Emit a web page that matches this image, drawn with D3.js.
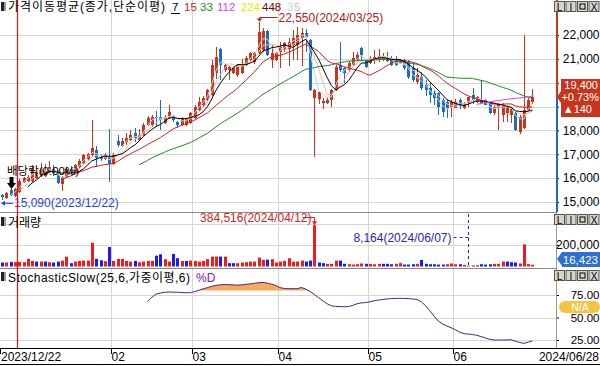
<!DOCTYPE html>
<html>
<head>
<meta charset="utf-8">
<script src="https://cdn.jsdelivr.net/npm/d3@7"></script>
<style>
body{margin:0;background:#fff}
svg{display:block;font-family:"Liberation Sans","Noto Sans CJK KR",sans-serif;font-size:12px}
</style>
</head>
<body>
<svg id="chart" width="600" height="366"></svg>
<script>
// daily candles, 2023/12/22 .. 2024/06/28 (index = trading day)
var opens = [15300,15150,15500,15250,15420,15850,15900,15900,16000,16150,16100,16250,16400,16150,15750,16050,16400,16250,16450,16650,
  16800,16950,17200,16900,16800,16900,16600,17550,17350,17500,17600,17900,17600,17800,18230,18230,18560,18560,18300,18520,
  18600,18350,18230,18230,18300,18520,18850,19070,19280,19490,20400,21410,20530,20530,20400,20320,20400,20740,20950,20870,
  21250,21370,22170,20950,20950,21290,21370,21410,21580,21580,21870,22100,21790,19360,19320,19150,19150,19280,19700,20740,
  20600,20530,20740,20950,21450,20950,20830,20950,20950,20950,20910,21040,21000,20830,20950,20870,20620,20030,20240,19900,
  19780,19570,19570,19280,19190,18980,18940,19280,18940,19150,19490,19190,19280,19280,19190,18730,18940,18650,18730,18650,
  18730,17940,18100,18860,19200];
var highs = [15350,15420,15560,15600,15960,16050,16150,16550,16300,16650,16600,16700,16550,16200,16100,16450,16500,16600,16800,17000,
  17050,18450,17350,17000,17050,18050,17050,17800,17700,17900,18000,18100,18050,18300,18600,18650,18800,19280,18650,19050,
  18650,18400,18560,18520,18780,19050,19400,19450,19750,20950,21500,21450,20800,20700,20700,20800,21000,21100,21300,21300,
  22550,22300,22200,21580,21300,21700,21700,21870,22200,22350,22300,22250,21850,19750,19650,19350,19400,19750,20750,21700,
  20650,20900,21300,21300,21500,21000,21100,21380,21400,21250,21300,21100,21100,21000,21000,20950,20870,20600,20450,20100,
  20000,19700,19600,19350,19280,19280,19300,19360,19200,19400,19780,19450,20110,19300,19200,19070,19150,19150,19070,18940,
  18760,18650,22000,19350,19750];
var lows = [15090,15120,15250,15200,15380,15800,15850,15850,15950,16100,16050,16200,16100,15750,15450,16000,16100,16200,16400,16600,
  16700,16900,16450,16700,16750,15850,16550,17300,17300,17400,17550,17500,17550,17750,18200,18150,18150,18020,18250,18480,
  18350,18100,18200,18200,18250,18480,18800,19000,19200,19450,20150,20100,20450,20100,20350,20250,20350,20700,20900,20800,
  21200,21300,21100,20620,20900,20600,21300,20700,20950,20950,20700,21300,19650,16900,19100,18900,19100,19000,19650,20450,
  20000,20450,20700,20900,20950,20600,20800,20800,20850,20900,20850,20700,20700,20800,20550,20150,20030,19950,19700,19450,
  19150,19070,18650,18560,18520,18560,18940,18900,18900,19000,19100,19150,19100,19050,18700,18650,18000,18350,18350,18300,
  17980,17850,18050,18800,19100];
var closes = [15220,15380,15300,15560,15900,16000,16060,16380,16250,16400,16300,16450,16200,15800,16050,16400,16250,16550,16700,16950,
  17000,17250,16850,16800,16950,16600,16950,17400,17550,17700,17800,17700,17800,18230,18520,18560,18520,18440,18560,18780,
  18440,18230,18520,18480,18730,18980,19190,19360,19700,20740,21080,20740,20740,20660,20620,20740,20740,21040,21250,21250,
  22130,22170,21160,21250,21250,21500,21660,21700,21870,22000,22080,21920,19700,19700,19610,19230,19280,19700,20660,20530,
  20400,20830,21040,21160,21160,20660,21040,21080,21120,21100,21040,20740,20740,20950,20620,20240,20110,20320,19780,19700,
  19490,19360,18980,18770,18940,19190,19190,19070,19150,19400,19280,19400,19150,19070,18730,18980,19070,19070,18980,18900,
  18020,18560,18850,19260,19400];
var volumes = [37000,37000,43000,40000,43000,40000,71000,52000,46000,46000,46000,40000,37000,46000,55000,92000,31000,46000,52000,55000,
  55000,221000,71000,58000,50000,181000,52000,71000,71000,52000,46000,52000,40000,46000,52000,52000,101000,114000,68000,46000,
  117000,77000,52000,52000,55000,52000,46000,52000,68000,92000,92000,92000,92000,31000,31000,31000,37000,40000,46000,46000,
  83000,61000,64000,68000,37000,46000,52000,77000,46000,46000,55000,46000,55000,384516,37000,31000,25000,25000,55000,55000,
  25000,21000,18000,21000,28000,25000,25000,21000,25000,25000,25000,21000,25000,31000,18000,18000,21000,25000,61000,25000,
  21000,21000,18000,18000,21000,28000,21000,21000,15000,8164,9000,12000,21000,18000,21000,25000,25000,46000,46000,40000,
  37000,28000,206000,22000,16423];
// Stochastic Slow %D, first value on trading day 34
var stochStart = 34;
var stochD = [67.6,72.5,76,77.2,78,78.3,78.2,78,77.8,77.5,77.6,78.7,80.3,81.8,83.2,84.6,85.6,86.4,86.6,86.5,
  86.2,86,86.3,86.8,87.4,88,88.7,89,88.2,87,85.6,83.2,82.2,82,82,82,83.4,81.5,78.8,75.6,
  72,68.5,65.2,63,62.4,62,62,62.2,63.5,65.3,66.2,66.6,67.4,68.6,69.4,70,70.6,71,71.2,71.3,
  71.2,71,70.6,70,67.5,63.2,57.4,51.5,46,42.8,40.5,38.6,36.3,33.8,32,31.6,31,30.2,28.8,27.2,
  25.8,25,25,25,25.1,25.3,23.6,22.2,21.3,22.6,23.9];

var maPeriods = [7, 15, 33, 112, 224, 448, 3, 5];
var maColors = ['#000000', '#d42020', '#1f8a1f', '#e040e0', '#e8e800', '#7a0000', '#a8dff0', '#ebb9a6'];
var monthTicks = [{i: 26, label: '02'}, {i: 45, label: '03'}, {i: 65, label: '04'}, {i: 86, label: '05'}, {i: 106, label: '06'}];
var yearStart = 4;
var priceTicks = [15000, 16000, 17000, 18000, 19000, 20000, 21000, 22000];
var volTicks = [200000, 400000];
var stochTicks = [25, 50, 75];
var firstDate = '2023/12/22', lastDate = '2024/06/28';
var prevClose = 19260;

var W = 556;
var upC = '#cc3318', dnC = '#1c6cc4';
var svg = d3.select('#chart');
svg.append('rect').attr('width', 600).attr('height', 366).attr('fill', '#fff');

var xc = d3.scaleLinear().domain([-0.5, 129.5]).range([0, W]);
var yP = d3.scaleLinear().domain([15000, 22000]).range([202, 35]);
var yV = d3.scaleLinear().domain([0, 200000]).range([266.5, 245]);
var yS = d3.scaleLinear().domain([25, 75]).range([340, 295]);
var px = function (i) { return Math.round(xc(i)) + 0.5; };

var data = closes.map(function (c, i) {
    return {i: i, o: opens[i], h: highs[i], l: lows[i], c: c, v: volumes[i]};
});

// grid
var grid = svg.append('g').attr('stroke', '#d6d6d6').attr('shape-rendering', 'crispEdges');
priceTicks.forEach(function (p) {
    grid.append('line').attr('x1', 0).attr('x2', W).attr('y1', Math.round(yP(p))).attr('y2', Math.round(yP(p)));
});
volTicks.forEach(function (v) {
    grid.append('line').attr('x1', 0).attr('x2', W).attr('y1', Math.round(yV(v))).attr('y2', Math.round(yV(v)));
});
stochTicks.forEach(function (v) {
    grid.append('line').attr('x1', 0).attr('x2', W).attr('y1', Math.round(yS(v))).attr('y2', Math.round(yS(v)));
});
monthTicks.forEach(function (m) {
    var gx = Math.round(xc(m.i - 0.5)) + 0.5;
    grid.append('line').attr('x1', gx).attr('x2', gx).attr('y1', 0).attr('y2', 348);
});

// panel separators
var sep = svg.append('g').attr('shape-rendering', 'crispEdges');
sep.append('line').attr('x1', 0).attr('x2', 600).attr('y1', 212.5).attr('y2', 212.5).attr('stroke', '#8a8a8a');
sep.append('line').attr('x1', 0).attr('x2', 600).attr('y1', 268.5).attr('y2', 268.5).attr('stroke', '#8a8a8a');
sep.append('line').attr('x1', 0).attr('x2', 600).attr('y1', 348.5).attr('y2', 348.5).attr('stroke', '#000');
sep.append('line').attr('x1', 0).attr('x2', 600).attr('y1', 364.5).attr('y2', 364.5).attr('stroke', '#000');

// volume bars
svg.append('g').selectAll('rect').data(data).enter().append('rect')
    .attr('x', function (d) { return Math.round(xc(d.i)) - 1; })
    .attr('width', 3)
    .attr('y', function (d) { return yV(d.v); })
    .attr('height', function (d) { return Math.max(0.8, yV(0) - yV(d.v)); })
    .attr('fill', function (d) {
        var pc = d.i > 0 ? closes[d.i - 1] : d.o;
        return d.c >= pc ? '#f01c1c' : '#1c1cf0';
    });

// candles
var candle = svg.append('g').selectAll('g').data(data).enter().append('g')
    .attr('shape-rendering', 'crispEdges');
candle.append('line')
    .attr('x1', function (d) { return px(d.i); })
    .attr('x2', function (d) { return px(d.i); })
    .attr('y1', function (d) { return yP(d.h); })
    .attr('y2', function (d) { return yP(d.l); })
    .attr('stroke', function (d) { return d.c >= d.o ? upC : dnC; });
candle.append('rect')
    .attr('x', function (d) { return Math.round(xc(d.i)) - 1; })
    .attr('width', 3)
    .attr('y', function (d) { return yP(Math.max(d.o, d.c)); })
    .attr('height', function (d) { return Math.max(1, Math.abs(yP(d.o) - yP(d.c))); })
    .attr('fill', function (d) { return d.c >= d.o ? upC : dnC; });

// moving averages of close
function sma(n) {
    return closes.map(function (c, i) {
        return i < n - 1 ? null : d3.mean(closes.slice(i - n + 1, i + 1));
    });
}
var maLine = d3.line()
    .defined(function (d) { return d != null; })
    .x(function (d, i) { return xc(i); })
    .y(function (d) { return yP(d); });
[6, 7, 2, 1, 0, 3].forEach(function (k) {
    svg.append('path').attr('d', maLine(sma(maPeriods[k])))
        .attr('fill', 'none').attr('stroke', maColors[k]).attr('stroke-width', 1);
});

// stochastic slow %D
var sd = stochD.map(function (v, k) { return {i: k + stochStart, v: v}; });
svg.append('path')
    .attr('d', d3.area().x(function (d) { return xc(d.i); })
        .y0(yS(80)).y1(function (d) { return yS(Math.max(80, d.v)); })(sd))
    .attr('fill', '#f7a95c');
svg.append('path')
    .attr('d', d3.line().x(function (d) { return xc(d.i); }).y(function (d) { return yS(d.v); })(sd))
    .attr('fill', 'none').attr('stroke', '#4a2288').attr('stroke-width', 1);

// annotations
var hiI = d3.maxIndex(highs), loI = d3.minIndex(lows), vI = d3.maxIndex(volumes), vLo = d3.minIndex(volumes);
var ann = svg.append('g');
// high
var hx = px(hiI), hy = yP(highs[hiI]);
ann.append('path').attr('d', 'M' + (hx + 18) + ',17.5H' + hx + 'V' + (hy - 1))
    .attr('fill', 'none').attr('stroke', '#b02020');
ann.append('path').attr('d', 'M' + (hx - 3) + ',' + (hy - 3.5) + 'L' + (hx + 3) + ',' + (hy - 3.5) + 'L' + hx + ',' + (hy - 0.5) + 'Z')
    .attr('fill', '#b02020');
ann.append('text').attr('x', hx + 19).attr('y', 22).attr('fill', '#b02020')
    .text(d3.format(',')(highs[hiI]) + '(2024/03/25)');
// low
var ly = yP(lows[loI]);
ann.append('path').attr('d', 'M2,' + (ly + 3.5) + 'H13').attr('stroke', '#2a46c8');
ann.append('path').attr('d', 'M1,' + (ly + 3.5) + 'L5,' + (ly + 1) + 'L5,' + (ly + 6) + 'Z').attr('fill', '#2a46c8');
ann.append('text').attr('x', 14).attr('y', ly + 7.5).attr('fill', '#2a46c8')
    .text(d3.format(',')(lows[loI]) + '(' + firstDate + ')');
// ex-dividend
ann.append('text').attr('x', 7).attr('y', 175).attr('font-size', '11.5px').attr('fill', '#000').text('배당락(0.00%)');
var ax = px(2);
ann.append('path').attr('d', 'M' + (ax - 2) + ',177H' + (ax + 2) + 'V183H' + (ax + 4.5) + 'L' + ax + ',189L' + (ax - 4.5) + ',183H' + (ax - 2) + 'Z')
    .attr('fill', '#000');
// volume max
var vx = px(vI), vy = yV(volumes[vI]);
ann.append('text').attr('x', vx - 3).attr('y', 221.5).attr('text-anchor', 'end').attr('fill', '#e02020')
    .text(d3.format(',')(volumes[vI]) + '(2024/04/12)');
ann.append('path').attr('d', 'M' + (vx - 12) + ',217.5H' + vx + 'V' + (vy - 1)).attr('fill', 'none').attr('stroke', '#e02020');
ann.append('path').attr('d', 'M' + (vx - 2.5) + ',' + (vy - 4) + 'L' + (vx + 2.5) + ',' + (vy - 4) + 'L' + vx + ',' + vy + 'Z').attr('fill', '#e02020');
// volume min
var mx = px(vLo);
ann.append('path').attr('d', 'M' + mx + ',214V266').attr('stroke', '#2424c8').attr('stroke-dasharray', '3,3');
ann.append('path').attr('d', 'M' + (mx - 15) + ',237.5H' + mx).attr('stroke', '#2424c8').attr('stroke-dasharray', '3,3');
ann.append('text').attr('x', mx - 17).attr('y', 242).attr('text-anchor', 'end').attr('fill', '#2424c8')
    .text(d3.format(',')(volumes[vLo]) + '(2024/06/07)');

// year divider
var yx = Math.round(xc(yearStart - 0.5)) + 0.5;
svg.append('line').attr('x1', yx).attr('x2', yx).attr('y1', 0).attr('y2', 348)
    .attr('stroke', '#f01010').attr('stroke-width', 1.2);

// right axes
svg.append('rect').attr('x', W + 1).attr('y', 0).attr('width', 600 - W - 1).attr('height', 348).attr('fill', '#fff');
var last = closes[closes.length - 1];
var cy = yP(last);
function styleAxis(g) {
    g.select('.domain').remove();
    g.selectAll('text').attr('font-size', '12px').attr('font-family', null).attr('fill', '#000')
        .attr('text-anchor', 'end').attr('x', 43.5);
}
var pAxis = svg.append('g').attr('transform', 'translate(' + W + ',0)')
    .call(d3.axisRight(yP).tickValues(priceTicks).tickSize(3)
        .tickFormat(function (d) { return Math.abs(yP(d) - cy) < 20 ? '' : d3.format(',')(d); }));
styleAxis(pAxis);
svg.append('line').attr('x1', W + 1).attr('x2', W + 1).attr('y1', 0).attr('y2', cy).attr('stroke', upC).attr('stroke-width', 2);
svg.append('line').attr('x1', W + 1).attr('x2', W + 1).attr('y1', cy).attr('y2', 212).attr('stroke', dnC).attr('stroke-width', 2);

var vAxis = svg.append('g').attr('transform', 'translate(' + W + ',0)')
    .call(d3.axisRight(yV).tickValues(volTicks).tickSize(3)
        .tickFormat(function (d) { return d === 200000 ? d3.format(',')(d) : ''; }));
styleAxis(vAxis);
svg.append('line').attr('x1', W + 0.5).attr('x2', W + 0.5).attr('y1', 213).attr('y2', 268).attr('stroke', '#999');

var sAxis = svg.append('g').attr('transform', 'translate(' + W + ',0)')
    .call(d3.axisRight(yS).tickValues(stochTicks).tickSize(3).tickFormat(d3.format('.2f')));
styleAxis(sAxis);
sAxis.selectAll('text').attr('font-size', '11.5px');
svg.append('line').attr('x1', W + 0.5).attr('x2', W + 0.5).attr('y1', 269).attr('y2', 348).attr('stroke', '#999');

// current price box
svg.append('path').attr('d', 'M' + (W + 1) + ',' + cy + 'L561,' + (cy - 6) + 'V79H600V117H561V' + (cy + 6) + 'Z').attr('fill', '#c8341c');
var pct = (last - prevClose) / prevClose * 100;
var bt = svg.append('g').attr('fill', '#fff').attr('font-size', '11px').attr('text-anchor', 'end');
bt.append('text').attr('x', 598).attr('y', 89).text(d3.format(',')(last));
bt.append('text').attr('x', 599).attr('y', 101).text('+' + pct.toFixed(2) + '%');
bt.append('text').attr('x', 592).attr('y', 113).text('▲' + (last - prevClose));

// current volume box
var cv = 259;
svg.append('path').attr('d', 'M' + (W + 1) + ',' + cv + 'L562,' + (cv - 7) + 'H600V267H562V' + (cv + 7) + 'Z').attr('fill', '#2f6fd2');
svg.append('text').attr('x', 598).attr('y', 264).attr('text-anchor', 'end').attr('font-size', '11.5px')
    .attr('fill', '#fff').text(d3.format(',')(volumes[volumes.length - 1]));

// stochastic value box
svg.append('rect').attr('x', 559).attr('y', 301).attr('width', 41).attr('height', 12).attr('rx', 6).attr('fill', '#f3c443');
svg.append('text').attr('x', 580).attr('y', 311).attr('text-anchor', 'middle').attr('font-size', '10.5px')
    .attr('fill', '#fff').text('N/A');

// bottom date axis
var xa = svg.append('g');
xa.append('text').attr('x', 1).attr('y', 361).text(firstDate);
xa.append('text').attr('x', 599).attr('y', 361).attr('text-anchor', 'end').text(lastDate);
monthTicks.forEach(function (m) {
    var gx = Math.round(xc(m.i - 0.5)) + 0.5;
    xa.append('line').attr('x1', gx).attr('x2', gx).attr('y1', 349).attr('y2', 354).attr('stroke', '#000');
    xa.append('text').attr('x', gx).attr('y', 361).text(m.label);
});
xa.append('line').attr('x1', 0.5).attr('x2', 0.5).attr('y1', 349).attr('y2', 354).attr('stroke', '#000');

// panel headers
function icon(y) {
    svg.append('rect').attr('x', 1).attr('y', y).attr('width', 5).attr('height', 9).attr('fill', '#9a9a9a');
    svg.append('rect').attr('x', 1).attr('y', y).attr('width', 3).attr('height', 9).attr('fill', '#222');
}
icon(2); icon(217); icon(272);
svg.append('text').attr('x', 8).attr('y', 11).attr('textLength', 157).attr('lengthAdjust', 'spacing')
    .text('가격이동평균(종가,단순이평)');
var legendX = [172, 184, 200, 217, 241, 262, 287, 294];
maPeriods.forEach(function (p, k) {
    svg.append('text').attr('x', legendX[k]).attr('y', 10.5).attr('font-size', '11.5px').attr('fill', maColors[k]).text(p);
});
svg.append('line').attr('x1', 171).attr('x2', 180).attr('y1', 13.5).attr('y2', 13.5).attr('stroke', '#000');
svg.append('text').attr('x', 8).attr('y', 227).attr('textLength', 33).attr('lengthAdjust', 'spacing').text('거래량');
svg.append('text').attr('x', 8).attr('y', 282).attr('textLength', 182).attr('lengthAdjust', 'spacing')
    .text('StochasticSlow(25,6,가중이평,6)');
svg.append('text').attr('x', 196).attr('y', 282).attr('fill', '#6a2aa0').text('%D');

// window buttons
[1, 214, 270].forEach(function (by) {
    ['L', 'I', '', 'X'].forEach(function (t, k) {
        var bx = 554 + k * 11.5;
        svg.append('rect').attr('x', bx + 0.5).attr('y', by + 0.5).attr('width', 10).attr('height', 10)
            .attr('fill', '#d8d4cc').attr('stroke', '#555');
        if (t) svg.append('text').attr('x', bx + 5.5).attr('y', by + 9.5).attr('text-anchor', 'middle')
            .attr('font-size', '10px').attr('fill', '#000').text(t);
        else svg.append('rect').attr('x', bx + 3).attr('y', by + 3).attr('width', 5).attr('height', 5)
            .attr('fill', 'none').attr('stroke', '#000');
    });
});
</script>
</body>
</html>
